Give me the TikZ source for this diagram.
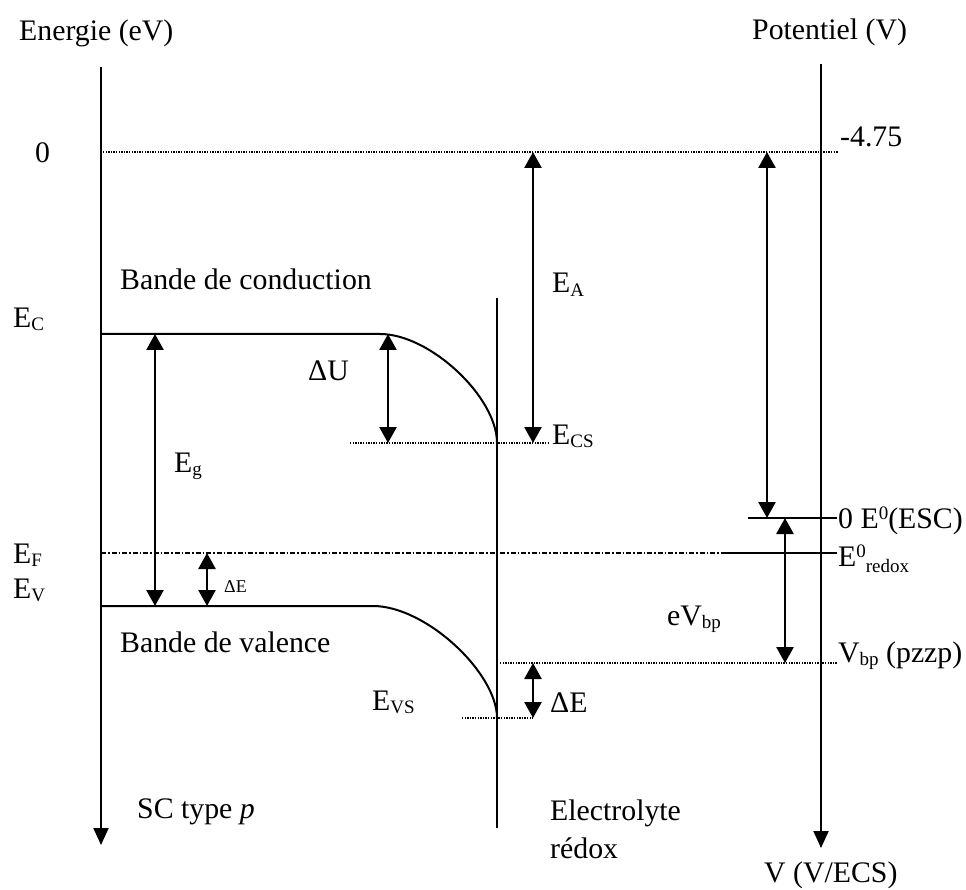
\documentclass[tikz,border=0pt]{standalone}
\usepackage{fontspec}
\setmainfont{Liberation Serif}
\usetikzlibrary{arrows.meta}
\newcommand\lowsub[1]{\raisebox{-3.5pt}{\fontsize{19}{20}\selectfont #1}}
\newcommand\highsup[1]{\raisebox{9pt}{\fontsize{19}{20}\selectfont #1}}
\begin{document}
\begin{tikzpicture}[x=1pt,y=-1pt,
  lbl/.style={inner sep=0pt, anchor=base west, font=\fontsize{29.8}{33}\selectfont},
  smalllbl/.style={inner sep=0pt, anchor=base west, font=\fontsize{18}{20}\selectfont},
  axis/.style={line width=2pt, -{Triangle[length=17pt,width=15pt]}},
  band/.style={line width=2pt},
  thinline/.style={line width=1.6pt},
  dim/.style={line width=2.6pt, {Triangle[length=16pt,width=17pt]}-{Triangle[length=16pt,width=17pt]}},
  dots/.style={line width=1.3pt, dash pattern=on 1.3pt off 1.3pt},
  dashdot/.style={line width=1.3pt, dash pattern=on 5pt off 2pt on 1.5pt off 2pt}]
\useasboundingbox (0,0) rectangle (966,890);
% axes and interface
\coordinate (LT) at (101,67);  \coordinate (LB) at (101,845);
\coordinate (RT) at (821,64);  \coordinate (RB) at (821,848);
\coordinate (IT) at (497,298); \coordinate (IB) at (497,828);
\draw[axis] (LT) -- (LB);
\draw[axis] (RT) -- (RB);
\draw[band] (IT) -- (IB);
% levels
\coordinate (Z0) at (103,152); \coordinate (Z1) at (838,152);
\draw[dots] (Z0) -- (Z1);
\coordinate (C0) at (101,334); \coordinate (C1) at (380,334); \coordinate (CS) at (497,443);
\draw[band] (C0) -- (C1) .. controls (430,334) and (497,397) .. (CS);
\coordinate (V0) at (101,606); \coordinate (V1) at (373,606); \coordinate (VS) at (497,718);
\draw[band] (V0) -- (V1) .. controls (426,606) and (497,673) .. (VS);
\coordinate (CSa) at (350,443); \coordinate (CSb) at (548,443);
\draw[dots] (CSa) -- (CSb);
\coordinate (VSa) at (462,718); \coordinate (VSb) at (533,718);
\draw[dots] (VSa) -- (VSb);
\coordinate (F0) at (101,553); \coordinate (F1) at (725,553); \coordinate (F2) at (837,553);
\draw[dashdot] (F0) -- (F1);
\draw[thinline] (F1) -- (F2);
\coordinate (S0) at (748,518); \coordinate (S1) at (837,518);
\draw[thinline] (S0) -- (S1);
\coordinate (P0) at (500,663); \coordinate (P1) at (837,663);
\draw[dots] (P0) -- (P1);
% dimension arrows
\coordinate (EgT) at (155,334); \coordinate (EgB) at (155,606);
\draw[dim] (EgT) -- (EgB);
\coordinate (dET) at (207,553); \coordinate (dEB) at (207,606);
\draw[dim] (dET) -- (dEB);
\coordinate (dUT) at (388,334); \coordinate (dUB) at (388,443);
\draw[dim] (dUT) -- (dUB);
\coordinate (EAT) at (533,152); \coordinate (EAB) at (533,443);
\draw[dim] (EAT) -- (EAB);
\coordinate (dE2T) at (533,663); \coordinate (dE2B) at (533,718);
\draw[dim] (dE2T) -- (dE2B);
\coordinate (ET) at (767,152); \coordinate (EB) at (767,518);
\draw[dim] (ET) -- (EB);
\coordinate (VbT) at (785,518); \coordinate (VbB) at (785,663);
\draw[dim] (VbT) -- (VbB);
% labels
\node[lbl] (tEn) at (19,41) {Energie (eV)};
\node[lbl] (tPot) at (752,40) {Potentiel (V)};
\node[lbl] (tZero) at (35,163) {0};
\node[lbl] (tm475) at (840,147) {-4.75};
\node[lbl] (tBC) at (120,290) {Bande de conduction};
\node[lbl] (tEC) at (13,327) {E\lowsub{C}};
\node[lbl] (tEA) at (552,293) {E\lowsub{A}};
\node[lbl] (tdU) at (308,380) {ΔU};
\node[lbl] (tECS) at (552,444) {E\lowsub{CS}};
\node[lbl] (tEg) at (174,472) {E\lowsub{g}};
\node[lbl] (tEF) at (13,563) {E\lowsub{F}};
\node[lbl] (tEV) at (13,598) {E\lowsub{V}};
\node[smalllbl] (tdE) at (224,592) {ΔE};
\node[lbl] (tESC) at (838,528) {0 E\highsup{0}(ESC)};
\node[lbl] (tRedox) at (838,566) {E\highsup{0}\raisebox{-6pt}{\fontsize{19}{20}\selectfont redox}};
\node[lbl] (teV) at (667,625) {eV\lowsub{bp}};
\node[lbl] (tVbp) at (838,662) {V\lowsub{bp} (pzzp)};
\node[lbl] (tBV) at (120,652) {Bande de valence};
\node[lbl] (tEVS) at (372,710) {E\lowsub{VS}};
\node[lbl] (tdE2) at (550,712) {ΔE};
\node[lbl] (tSC) at (137,818) {SC type \textit{p}};
\node[lbl] (tEl) at (550,820) {Electrolyte};
\node[lbl] (tRe) at (550,858) {rédox};
\node[lbl] (tVECS) at (764,882) {V (V/ECS)};
\end{tikzpicture}
\end{document}
